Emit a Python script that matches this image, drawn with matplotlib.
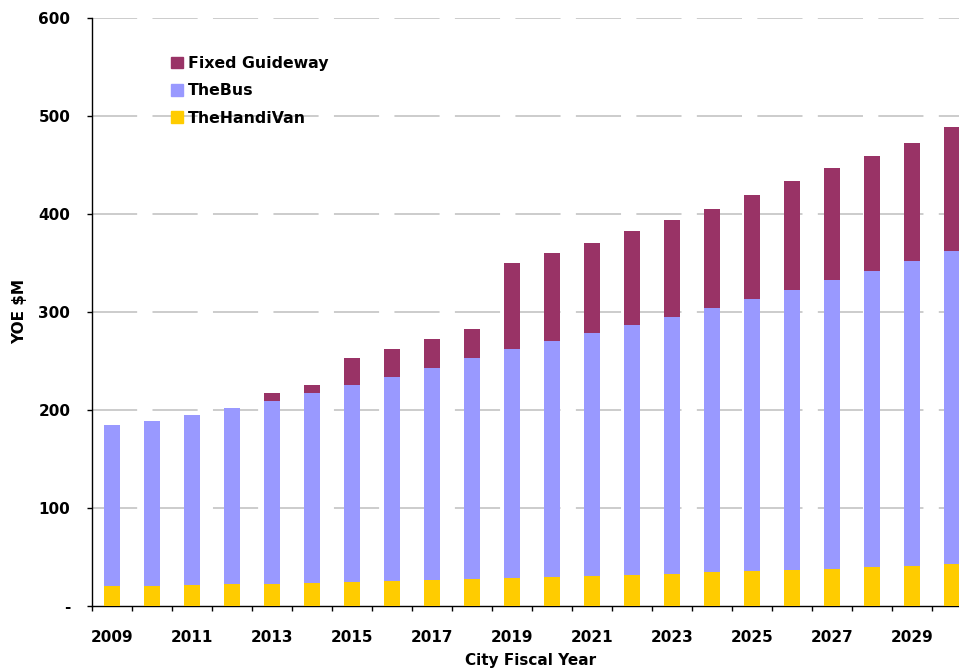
import numpy as np
import matplotlib
matplotlib.use("Agg")
import matplotlib.pyplot as plt
from matplotlib.patches import Patch

# City fiscal years and operating cost by mode (YOE $M)
years = list(range(2009, 2031))
handivan = [20.7, 20.7, 21.4, 22.8, 22.8, 23.5, 24.5, 25.5, 26.9, 27.6, 28.9,
            29.6, 31.0, 31.6, 33.0, 35.0, 35.7, 37.0, 37.8, 39.8, 41.1, 43.2]
thebus = [164.0, 168.1, 173.5, 179.2, 186.4, 193.8, 201.0, 208.2, 216.0, 225.4, 233.3,
          240.8, 247.6, 255.1, 261.9, 269.0, 277.6, 285.4, 294.9, 302.0, 310.9, 319.0]
guideway = [0, 0, 0, 0, 8.1, 8.2, 27.5, 28.5, 29.5, 29.7, 87.8,
            89.8, 91.8, 96.0, 99.0, 101.1, 106.1, 111.3, 114.2, 117.4, 120.4, 126.6]

c_guide = "#993366"
c_bus = "#9999FF"
c_van = "#FFCC00"

plt.rcParams['font.family'] = ['DejaVu Sans']
plt.rcParams['font.weight'] = 'bold'

fig = plt.figure(figsize=(9.59, 6.68), dpi=100)
# plot area runs past the right edge of the picture, as in the original
ax = fig.add_axes([92 / 959, 62 / 668, 880 / 959, 588 / 668])

x = np.arange(len(years))
van = np.array(handivan)
bus = np.array(thebus)
gw = np.array(guideway)

ax.bar(x, van, width=0.4, color=c_van, zorder=3)
ax.bar(x, bus, width=0.4, bottom=van, color=c_bus, zorder=3)
ax.bar(x, gw, width=0.4, bottom=van + bus, color=c_guide, zorder=3)

ax.set_xlim(-0.5, len(years) - 0.5)
ax.set_ylim(0, 600)

# y axis
yt = [0, 100, 200, 300, 400, 500, 600]
ax.set_yticks(yt)
ax.set_yticklabels(["-"] + [str(v) for v in yt[1:]], fontsize=11, fontweight='bold')
ax.tick_params(axis='y', direction='out', length=3.6, width=1, pad=12)
for v in yt[1:]:
    ax.axhline(v, color="#c8c8c8", lw=1.3, linestyle=(0, (25, 8.5)), zorder=1)

# x axis: ticks between categories, labels on every other year
ax.set_xticks(np.arange(-0.5, len(years)), labels=[])
ax.tick_params(axis='x', which='major', direction='out', length=3.6, width=1)
ax.set_xticks(x[::2], minor=True)
ax.set_xticklabels([str(y) for y in years[::2]], minor=True, fontsize=11, fontweight='bold')
ax.tick_params(axis='x', which='minor', length=0, pad=17)

for s in ['top', 'right']:
    ax.spines[s].set_visible(False)
ax.spines['left'].set_linewidth(1)
ax.spines['bottom'].set_linewidth(1)

ax.set_ylabel("YOE $M", fontsize=11, fontweight='bold')
ax.yaxis.set_label_coords(-65 / 880, 0.5)
fig.text(531 / 959, 1 - 660 / 668, "City Fiscal Year", ha='center', va='center',
         fontsize=11, fontweight='bold')

handles = [Patch(color=c_guide, label="Fixed Guideway"),
           Patch(color=c_bus, label="TheBus"),
           Patch(color=c_van, label="TheHandiVan")]
ax.legend(handles=handles, loc='upper left', bbox_to_anchor=(157 / 959, 1 - 42 / 668),
          bbox_transform=fig.transFigure, frameon=False, fontsize=11.3,
          handlelength=0.75, handleheight=0.75, handletextpad=0.3, labelspacing=0.78)

fig.savefig("out.png", dpi=100)
